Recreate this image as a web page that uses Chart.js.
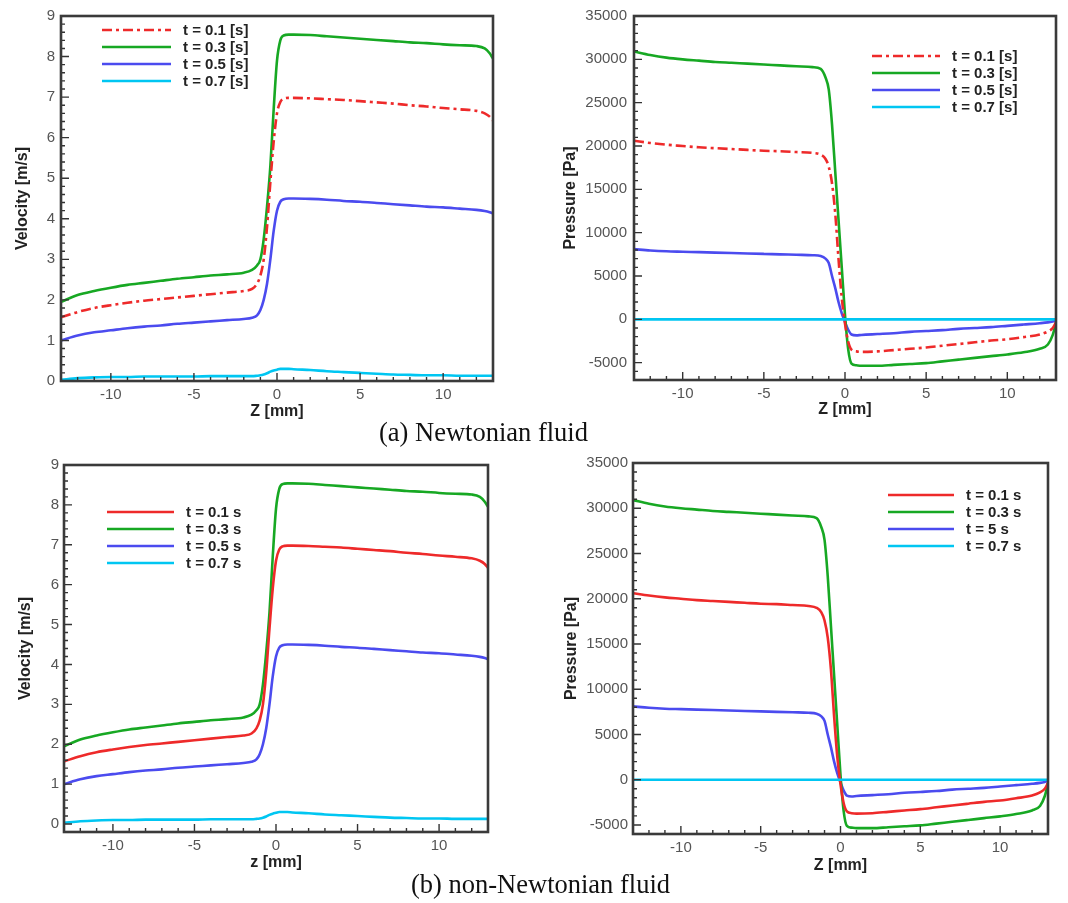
<!DOCTYPE html>
<html>
<head>
<meta charset="utf-8">
<script src="https://cdn.jsdelivr.net/npm/chart.js@4.4.1/dist/chart.umd.min.js"></script>
<style>
  body { margin: 0; background: #fff; }
  #lienzo { position: relative; width: 1068px; height: 903px; overflow: hidden; background: #fff; }
  canvas { position: absolute; }
  .pie { position: absolute; font-family: 'Liberation Serif', 'Times New Roman', serif; font-size: 26.5px; line-height: 30px; color: #111; white-space: nowrap; }
</style>
</head>
<body>
<div id="lienzo">
  <canvas id="velA"></canvas>
  <canvas id="presA"></canvas>
  <canvas id="velB"></canvas>
  <canvas id="presB"></canvas>
  <div class="pie" style="left:379px; top:417px;">(a) Newtonian fluid</div>
  <div class="pie" style="left:411px; top:869px;">(b) non-Newtonian fluid</div>
</div>
<script>
// posiciones axiales z [mm] donde se leyeron las curvas
var zMm = [-13, -12, -11, -10, -9, -8, -7, -6, -5, -4, -3, -2, -1.5, -1.2, -1, -0.8, -0.6, -0.4, -0.2,
  0, 0.2, 0.4, 0.7, 1, 2, 3, 4, 5, 6, 7, 8, 9, 10, 11, 12, 12.5, 12.8, 13];

// velocidad [m/s]
var velT01 = [1.57, 1.7, 1.8, 1.87, 1.93, 1.98, 2.02, 2.06, 2.1, 2.14, 2.18, 2.22, 2.27, 2.4, 2.6, 3.0, 3.8, 4.9, 5.9,
  6.6, 6.88, 6.96, 6.98, 6.98, 6.97, 6.95, 6.93, 6.9, 6.87, 6.84, 6.8, 6.77, 6.73, 6.7, 6.66, 6.6, 6.52, 6.42];
var velT03 = [1.95, 2.12, 2.22, 2.3, 2.37, 2.42, 2.47, 2.52, 2.56, 2.6, 2.63, 2.67, 2.74, 2.85, 3.0, 3.5, 4.3, 5.3, 6.7,
  7.9, 8.4, 8.52, 8.54, 8.54, 8.53, 8.5, 8.47, 8.44, 8.41, 8.38, 8.35, 8.33, 8.3, 8.28, 8.26, 8.2, 8.08, 7.95];
var velT05 = [1.0, 1.12, 1.2, 1.25, 1.3, 1.34, 1.37, 1.41, 1.44, 1.47, 1.5, 1.53, 1.56, 1.62, 1.75, 2.0, 2.4, 3.0, 3.7,
  4.2, 4.42, 4.48, 4.5, 4.5, 4.49, 4.47, 4.44, 4.42, 4.39, 4.36, 4.33, 4.3, 4.28, 4.25, 4.22, 4.19, 4.16, 4.13];
var velT07 = [0.03, 0.07, 0.09, 0.1, 0.1, 0.11, 0.11, 0.11, 0.11, 0.12, 0.12, 0.12, 0.12, 0.13, 0.14, 0.16, 0.19, 0.23, 0.26,
  0.28, 0.3, 0.3, 0.3, 0.29, 0.27, 0.24, 0.22, 0.2, 0.18, 0.16, 0.15, 0.14, 0.14, 0.13, 0.13, 0.13, 0.13, 0.13];

// presion [Pa]
var presT01 = [20600, 20350, 20150, 20000, 19850, 19750, 19650, 19550, 19450, 19400, 19300, 19200, 19000, 18500, 17600, 15700, 12200, 7000, 2500,
  -500, -2600, -3500, -3700, -3750, -3700, -3550, -3400, -3250, -3050, -2850, -2650, -2450, -2300, -2050, -1750, -1400, -1000, -350];
var presT03 = [30900, 30500, 30200, 30000, 29850, 29700, 29600, 29500, 29400, 29300, 29200, 29100, 28900, 27900, 26500, 22500, 17000, 11500, 6000,
  500, -3500, -5100, -5300, -5350, -5350, -5250, -5150, -5050, -4850, -4650, -4450, -4250, -4050, -3800, -3400, -2900, -1800, -400];
var presT05 = [8100, 7950, 7850, 7800, 7750, 7700, 7650, 7600, 7550, 7500, 7450, 7400, 7300, 7000, 6500, 5000, 3600, 2000, 700,
  -300, -1200, -1750, -1850, -1800, -1700, -1600, -1450, -1350, -1250, -1100, -1000, -900, -750, -600, -450, -350, -250, -150];
var zPlano = [-13, 13];
var presT07 = [0, 0];

// etiquetas
var etiquetasA = ['t = 0.1 [s]', 't = 0.3 [s]', 't = 0.5 [s]', 't = 0.7 [s]'];
var etiquetasB = ['t = 0.1 s', 't = 0.3 s', 't = 0.5 s', 't = 0.7 s'];
var etiquetasPresB = ['t = 0.1 s', 't = 0.3 s', 't = 5 s', 't = 0.7 s'];
var ticksZ = [-10, -5, 0, 5, 10];
var ticksVel = [0, 1, 2, 3, 4, 5, 6, 7, 8, 9];
var ticksPres = [-5000, 0, 5000, 10000, 15000, 20000, 25000, 30000, 35000];

var colores = ['#ee2a2a', '#17a823', '#4b4bef', '#00c6f2'];
var fuenteEje = "'Liberation Sans', Arial, sans-serif";

function puntos(xs, ys) {
  return ys.map(function (y, i) { return { x: xs[i], y: y }; });
}

function series(etiquetas, valores, zs, rojoPunteado) {
  return valores.map(function (v, i) {
    return {
      label: etiquetas[i],
      data: puntos(zs[i], v),
      borderColor: colores[i],
      borderWidth: 2.6,
      borderDash: (i === 0 && rojoPunteado) ? [10, 4, 3, 4] : [],
      cubicInterpolationMode: 'monotone',
      pointRadius: 0,
      order: i === 3 ? -1 : i
    };
  });
}

// Marco y marcas hacia dentro (estilo Tecplot)
var marcoEjes = {
  id: 'marcoEjes',
  afterDatasetsDraw: function (chart) {
    var o = chart.options.plugins.marcoEjes;
    var ctx = chart.ctx, a = chart.chartArea;
    var xs = chart.scales.x, ys = chart.scales.y;
    ctx.save();
    ctx.strokeStyle = '#333';
    ctx.lineWidth = 1.4;
    ctx.beginPath();
    var k, v, p, mayor;
    for (k = Math.ceil(xs.min / o.xMenor - 1e-9); k * o.xMenor <= xs.max + 1e-9; k++) {
      v = k * o.xMenor;
      p = xs.getPixelForValue(v);
      mayor = Math.abs(v / o.xMayor - Math.round(v / o.xMayor)) < 1e-6;
      ctx.moveTo(p, a.bottom);
      ctx.lineTo(p, a.bottom - (mayor ? 8 : 4));
    }
    for (k = Math.ceil(ys.min / o.yMenor - 1e-9); k * o.yMenor <= ys.max + 1e-9; k++) {
      v = k * o.yMenor;
      p = ys.getPixelForValue(v);
      mayor = Math.abs(v / o.yMayor - Math.round(v / o.yMayor)) < 1e-6;
      ctx.moveTo(a.left, p);
      ctx.lineTo(a.left + (mayor ? 8 : 4), p);
    }
    ctx.stroke();
    ctx.lineWidth = 2.6;
    ctx.strokeStyle = '#3a3a3a';
    ctx.strokeRect(a.left, a.top, a.right - a.left, a.bottom - a.top);
    ctx.restore();
  }
};

// Leyenda dentro del area del grafico
var leyendaInterna = {
  id: 'leyendaInterna',
  afterDraw: function (chart) {
    var o = chart.options.plugins.leyendaInterna;
    var ctx = chart.ctx;
    ctx.save();
    ctx.font = 'bold 15px ' + fuenteEje;
    ctx.textBaseline = 'middle';
    ctx.fillStyle = '#222';
    chart.data.datasets.forEach(function (ds, i) {
      var y = o.y + i * o.fila;
      ctx.strokeStyle = ds.borderColor;
      ctx.lineWidth = ds.borderWidth;
      ctx.setLineDash(ds.borderDash || []);
      ctx.beginPath();
      ctx.moveTo(o.x, y);
      ctx.lineTo(o.x + o.largo, y);
      ctx.stroke();
      ctx.setLineDash([]);
      ctx.fillText(ds.label, o.x + o.largo + o.sep, y + 1);
    });
    ctx.restore();
  }
};

function crearPanel(id, caja, marco, cfg) {
  var canvas = document.getElementById(id);
  canvas.width = caja.w;
  canvas.height = caja.h;
  canvas.style.left = caja.x + 'px';
  canvas.style.top = caja.y + 'px';
  var medioLinea = 16 * 1.2 / 2;

  new Chart(canvas, {
    type: 'line',
    data: { datasets: cfg.datos },
    options: {
      responsive: false,
      animation: false,
      devicePixelRatio: 1,
      layout: { padding: { left: 0, top: marco.t - caja.y, right: caja.x + caja.w - marco.r, bottom: 0 } },
      plugins: {
        legend: { display: false },
        tooltip: { enabled: false },
        marcoEjes: { xMenor: 1, xMayor: 5, yMenor: cfg.yMenor, yMayor: cfg.yMayor },
        leyendaInterna: { x: cfg.ley.x - caja.x, y: cfg.ley.y - caja.y, largo: cfg.ley.largo, sep: 12, fila: 17 }
      },
      scales: {
        x: {
          type: 'linear', min: -13, max: 13,
          afterBuildTicks: function (s) { s.ticks = ticksZ.map(function (v) { return { value: v }; }); },
          afterFit: function (s) { s.height = caja.y + caja.h - marco.b; },
          grid: { display: false, drawTicks: false },
          border: { display: false },
          ticks: {
            padding: 5, maxRotation: 0, color: '#555', font: { family: fuenteEje, size: 15 },
            callback: function (v) { return String(v); }
          },
          title: {
            display: true, text: cfg.tituloX, color: '#222',
            font: { family: fuenteEje, size: 16, weight: 'bold' },
            padding: { top: 0, bottom: caja.y + caja.h - cfg.tituloXy - medioLinea }
          }
        },
        y: {
          type: 'linear', min: cfg.yMin, max: cfg.yMax,
          afterBuildTicks: function (s) { s.ticks = cfg.yTicks.map(function (v) { return { value: v }; }); },
          afterFit: function (s) { s.width = marco.l - caja.x; },
          grid: { display: false, drawTicks: false },
          border: { display: false },
          ticks: {
            padding: cfg.yPad, color: '#555', font: { family: fuenteEje, size: 15 },
            callback: function (v) { return String(v); }
          },
          title: {
            display: true, text: cfg.tituloY, color: '#222',
            font: { family: fuenteEje, size: 16, weight: 'bold' },
            padding: { top: cfg.tituloYx - caja.x - medioLinea, bottom: 0 }
          }
        }
      }
    },
    plugins: [marcoEjes, leyendaInterna]
  });
}

var zVel = [zMm, zMm, zMm, zMm];
var zPres = [zMm, zMm, zMm, zPlano];

crearPanel('velA', { x: 0, y: 0, w: 515, h: 425 }, { l: 61, t: 16, r: 493, b: 381 }, {
  datos: series(etiquetasA, [velT01, velT03, velT05, velT07], zVel, true),
  yMin: 0, yMax: 9, yTicks: ticksVel, yMenor: 0.2, yMayor: 1, yPad: 6,
  tituloX: 'Z [mm]', tituloXy: 412, tituloY: 'Velocity [m/s]', tituloYx: 23,
  ley: { x: 102, y: 30, largo: 69 }
});

crearPanel('presA', { x: 545, y: 0, w: 523, h: 425 }, { l: 634, t: 15, r: 1056, b: 380 }, {
  datos: series(etiquetasA, [presT01, presT03, presT05, presT07], zPres, true),
  yMin: -7000, yMax: 35000, yTicks: ticksPres, yMenor: 1000, yMayor: 5000, yPad: 7,
  tituloX: 'Z [mm]', tituloXy: 410, tituloY: 'Pressure [Pa]', tituloYx: 571,
  ley: { x: 872, y: 56, largo: 68 }
});

crearPanel('velB', { x: 0, y: 445, w: 515, h: 435 }, { l: 64, t: 465, r: 488, b: 832 }, {
  datos: series(etiquetasB, [velT01, velT03, velT05, velT07], zVel, false),
  yMin: -0.2, yMax: 9, yTicks: ticksVel, yMenor: 0.2, yMayor: 1, yPad: 5,
  tituloX: 'z [mm]', tituloXy: 863, tituloY: 'Velocity [m/s]', tituloYx: 26,
  ley: { x: 107, y: 512, largo: 67 }
});

crearPanel('presB', { x: 545, y: 445, w: 523, h: 435 }, { l: 633, t: 463, r: 1048, b: 834 }, {
  datos: series(etiquetasPresB, [presT01, presT03, presT05, presT07], zPres, false),
  yMin: -6000, yMax: 35000, yTicks: ticksPres, yMenor: 1000, yMayor: 5000, yPad: 5,
  tituloX: 'Z [mm]', tituloXy: 866, tituloY: 'Pressure [Pa]', tituloYx: 572,
  ley: { x: 888, y: 495, largo: 66 }
});
</script>
</body>
</html>
